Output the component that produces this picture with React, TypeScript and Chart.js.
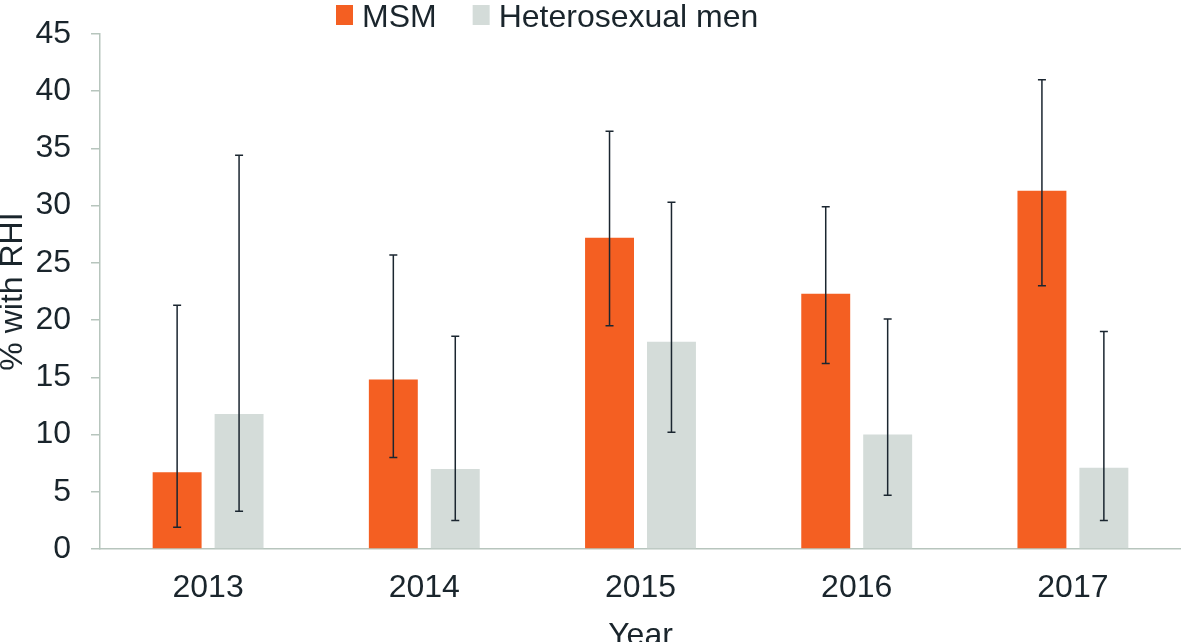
import React, { useEffect, useRef } from "react";
import { Chart, registerables } from "chart.js";

Chart.register(...registerables);

const years = ["2013", "2014", "2015", "2016", "2017"];
const msmValues = [6.7, 14.8, 27.2, 22.3, 31.3];
const msmLow = [1.9, 8.0, 19.5, 16.2, 23.0];
const msmHigh = [21.3, 25.7, 36.5, 29.9, 41.0];
const hetValues = [11.8, 7.0, 18.1, 10.0, 7.1];
const hetLow = [3.3, 2.5, 10.2, 4.7, 2.5];
const hetHigh = [34.4, 18.6, 30.3, 20.1, 19.0];
const seriesNames = ["MSM", "Heterosexual men"];
const yMin = 0;
const yMax = 45;
const yStep = 5;

const FONT = "'Liberation Sans', Arial, Helvetica, sans-serif";
const TEXT = "#1a252c";
const AXIS = "#b7c5bd";
const ORANGE = "#f45f22";
const GREY = "#d4dcd9";

const errorBarPlugin = {
  id: "errorBars",
  afterDatasetsDraw(chart: any) {
    const { ctx } = chart;
    const yScale = chart.scales.y;
    chart.data.datasets.forEach((ds: any, di: number) => {
      const meta = chart.getDatasetMeta(di);
      meta.data.forEach((bar: any, i: number) => {
        const lo = ds.errLow[i];
        const hi = ds.errHigh[i];
        const x = bar.x;
        const yLo = yScale.getPixelForValue(lo);
        const yHi = yScale.getPixelForValue(hi);
        ctx.save();
        ctx.strokeStyle = "#1b2630";
        ctx.lineWidth = 1.5;
        ctx.beginPath();
        ctx.moveTo(x, yLo);
        ctx.lineTo(x, yHi);
        ctx.moveTo(x - 4, yLo);
        ctx.lineTo(x + 4, yLo);
        ctx.moveTo(x - 4, yHi);
        ctx.lineTo(x + 4, yHi);
        ctx.stroke();
        ctx.restore();
      });
    });
  },
};

const legendPlugin = {
  id: "customLegend",
  afterDraw(chart: any) {
    const { ctx } = chart;
    const items = chart.data.datasets.map((ds: any) => ({
      label: ds.label,
      color: ds.backgroundColor,
    }));
    ctx.save();
    ctx.font = `32px ${FONT}`;
    ctx.textBaseline = "alphabetic";
    ctx.textAlign = "left";
    let x = 336;
    items.forEach((it: any) => {
      ctx.fillStyle = it.color;
      ctx.fillRect(x, 5, 17, 20);
      ctx.fillStyle = TEXT;
      ctx.fillText(it.label, x + 26, 27);
      x += 26 + ctx.measureText(it.label).width + 36;
    });
    ctx.restore();
  },
};

export default function App() {
  const ref = useRef<HTMLCanvasElement | null>(null);

  useEffect(() => {
    if (!ref.current) return;
    const chart = new Chart(ref.current, {
      type: "bar",
      data: {
        labels: years,
        datasets: [
          {
            label: seriesNames[0],
            data: msmValues,
            backgroundColor: ORANGE,
            errLow: msmLow,
            errHigh: msmHigh,
            categoryPercentage: 0.573,
            barPercentage: 0.79,
          } as any,
          {
            label: seriesNames[1],
            data: hetValues,
            backgroundColor: GREY,
            errLow: hetLow,
            errHigh: hetHigh,
            categoryPercentage: 0.573,
            barPercentage: 0.79,
          } as any,
        ],
      },
      options: {
        responsive: false,
        animation: false,
        layout: { padding: { top: 34, left: 0, right: 0, bottom: 0 } },
        plugins: {
          legend: { display: false },
          tooltip: { enabled: false },
          title: { display: false },
        },
        scales: {
          x: {
            grid: { display: false, drawTicks: false, drawOnChartArea: false },
            border: { display: true, color: AXIS, width: 1.5 },
            ticks: { font: { family: FONT, size: 32 }, color: TEXT, padding: 20 },
            title: {
              display: true,
              text: "Year",
              font: { family: FONT, size: 32 },
              color: TEXT,
              padding: { top: 0, bottom: -13.2 },
            },
            afterFit(scale: any) {
              scale.height = 93;
              scale.paddingLeft = 0;
              scale.paddingRight = 0;
            },
          },
          y: {
            min: yMin,
            max: yMax,
            grid: {
              display: true,
              drawOnChartArea: false,
              drawTicks: true,
              tickLength: 9,
              color: AXIS,
              lineWidth: 1.5,
            },
            border: { display: true, color: AXIS, width: 1.5 },
            ticks: {
              stepSize: yStep,
              font: { family: FONT, size: 32 },
              color: TEXT,
              padding: 20,
            },
            title: {
              display: true,
              text: "% with RHI",
              font: { family: FONT, size: 32 },
              color: TEXT,
              padding: { top: -6.2, bottom: 0 },
            },
            afterFit(scale: any) {
              scale.width = 100;
              scale.paddingTop = 0;
              scale.paddingBottom = 0;
            },
          },
        },
      },
      plugins: [errorBarPlugin, legendPlugin],
    } as any);
    return () => chart.destroy();
  }, []);

  return (
    <div
      style={{
        position: "absolute",
        left: 0,
        top: 0,
        width: 1181,
        height: 642,
        overflow: "hidden",
        background: "#ffffff",
      }}
    >
      <canvas ref={ref} width={1181} height={642} style={{ width: 1181, height: 642 }} />
    </div>
  );
}
